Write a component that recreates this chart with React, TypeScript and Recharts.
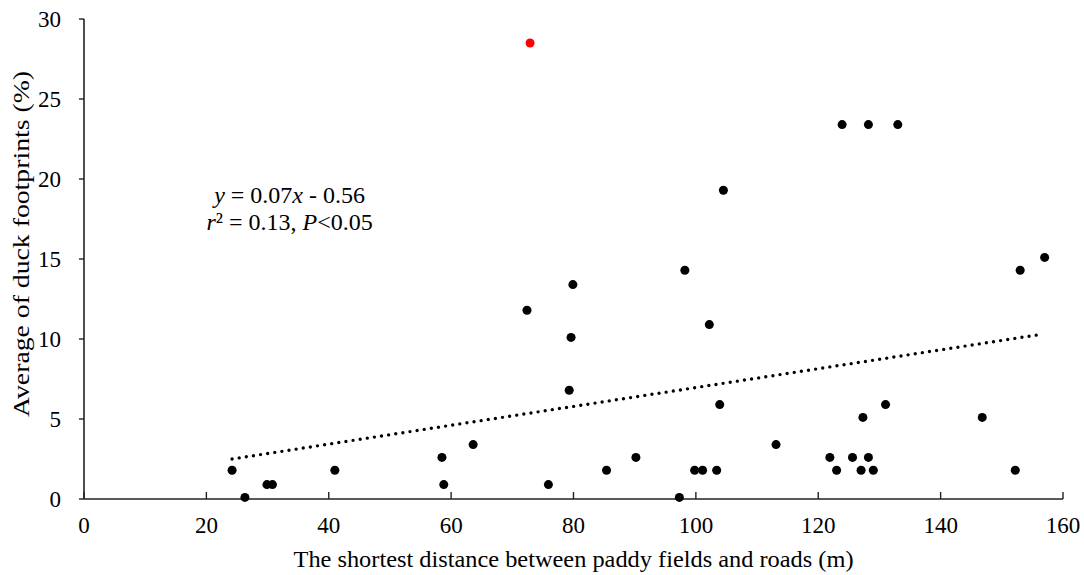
import React from "react";
import {
  Label,
  ReferenceDot,
  ReferenceLine,
  Scatter,
  ScatterChart,
  XAxis,
  YAxis
} from "recharts";

const serif = '"Liberation Serif", "Times New Roman", Times, serif';

// distance to road (m) / duck footprint average (%)
const distances = [
  24.2, 26.3, 29.9, 30.8, 41.0, 58.5, 58.8, 63.6, 72.4, 75.9, 79.3, 79.6, 79.9,
  85.4, 90.2, 97.3, 98.2, 99.8, 101.1, 102.2, 103.4, 103.9, 104.5, 113.1, 121.9,
  123.0, 123.9, 125.6, 127.0, 127.3, 128.2, 128.2, 129.0, 131.0, 133.0, 146.8,
  152.2, 153.0, 157.0
];
const footprints = [
  1.8, 0.1, 0.9, 0.9, 1.8, 2.6, 0.9, 3.4, 11.8, 0.9, 6.8, 10.1, 13.4,
  1.8, 2.6, 0.1, 14.3, 1.8, 1.8, 10.9, 1.8, 5.9, 19.3, 3.4, 2.6,
  1.8, 23.4, 2.6, 1.8, 5.1, 23.4, 2.6, 1.8, 5.9, 23.4, 5.1,
  1.8, 14.3, 15.1
];
const outlierX = [72.9];
const outlierY = [28.5];

const trendStart = { x: 24.2, y: 2.5 };
const trendEnd = { x: 156.6, y: 10.3 };

const xTicks = [0, 20, 40, 60, 80, 100, 120, 140, 160];
const yTicks = [0, 5, 10, 15, 20, 25, 30];

const equationLine = "0.07";
const equationIntercept = "0.56";
const rSquared = "0.13";
const pText = "0.05";
const annotationAt = { x: 33.6, y: 18.5 };

const points = distances.map((d, i) => ({ x: d, y: footprints[i] }));
const outliers = outlierX.map((d, i) => ({ x: d, y: outlierY[i] }));

const tickStyle = { fill: "#000", fontSize: 23, style: { fontFamily: serif } };
const textStyle = { fontFamily: serif };

function XTitle(props: any) {
  const vb = props.viewBox;
  return (
    <text
      x={vb.x + vb.width / 2}
      y={vb.y + 68}
      textAnchor="middle"
      fontSize={24}
      style={textStyle}
      fill="#000"
      textLength={560}
      lengthAdjust="spacingAndGlyphs"
    >
      The shortest distance between paddy fields and roads (m)
    </text>
  );
}

function YTitle(props: any) {
  const vb = props.viewBox;
  const cx = vb.x + 29;
  const cy = vb.y + vb.height / 2 - 15;
  return (
    <text
      x={cx}
      y={cy}
      transform={`rotate(-90 ${cx} ${cy})`}
      textAnchor="middle"
      fontSize={24}
      style={textStyle}
      fill="#000"
      textLength={346}
      lengthAdjust="spacingAndGlyphs"
    >
      Average of duck footprints (%)
    </text>
  );
}

function Equation(props: any) {
  const vb = props.viewBox;
  const cx = vb.x + vb.width / 2;
  const cy = vb.y + vb.height / 2;
  return (
    <g fontSize={24} fill="#000" style={textStyle}>
      <text x={cx} y={cy} textAnchor="middle" style={textStyle}>
        <tspan fontStyle="italic">y</tspan>
        {` = ${equationLine}`}
        <tspan fontStyle="italic">x</tspan>
        {` - ${equationIntercept}`}
      </text>
      <text x={cx} y={cy + 27} textAnchor="middle" style={textStyle}>
        <tspan fontStyle="italic">r</tspan>
        {`² = ${rSquared}, `}
        <tspan fontStyle="italic">P</tspan>
        {`<${pText}`}
      </text>
    </g>
  );
}

export default function App() {
  return (
    <div style={{ position: "absolute", left: 0, top: 0, background: "#fff", fontFamily: serif }}>
      <ScatterChart
        width={1084}
        height={575}
        margin={{ top: 19, right: 21, bottom: 0, left: 0 }}
        style={{ fontFamily: serif }}
      >
        <XAxis
          type="number"
          dataKey="x"
          domain={[0, 160]}
          ticks={xTicks}
          interval={0}
          height={76}
          tickSize={-7}
          tickMargin={25}
          tick={tickStyle}
          axisLine={{ stroke: "#222", strokeWidth: 1.6 }}
          tickLine={{ stroke: "#222", strokeWidth: 1.4 }}
        >
          <Label content={XTitle} />
        </XAxis>
        <YAxis
          type="number"
          dataKey="y"
          domain={[0, 30]}
          ticks={yTicks}
          interval={0}
          width={84}
          tickSize={5}
          tickMargin={18}
          tick={tickStyle}
          axisLine={{ stroke: "#222", strokeWidth: 1.6 }}
          tickLine={{ stroke: "#222", strokeWidth: 1.4 }}
        >
          <Label content={YTitle} />
        </YAxis>
        <ReferenceLine
          segment={[trendStart, trendEnd]}
          stroke="#000"
          strokeWidth={3.4}
          strokeDasharray="0 7.2"
          strokeLinecap="round"
        />
        <Scatter data={points} fill="#000" isAnimationActive={false} />
        <Scatter data={outliers} fill="#ff0000" isAnimationActive={false} />
        <ReferenceDot
          x={annotationAt.x}
          y={annotationAt.y}
          r={1}
          fill="none"
          stroke="none"
          label={Equation}
        />
      </ScatterChart>
    </div>
  );
}
